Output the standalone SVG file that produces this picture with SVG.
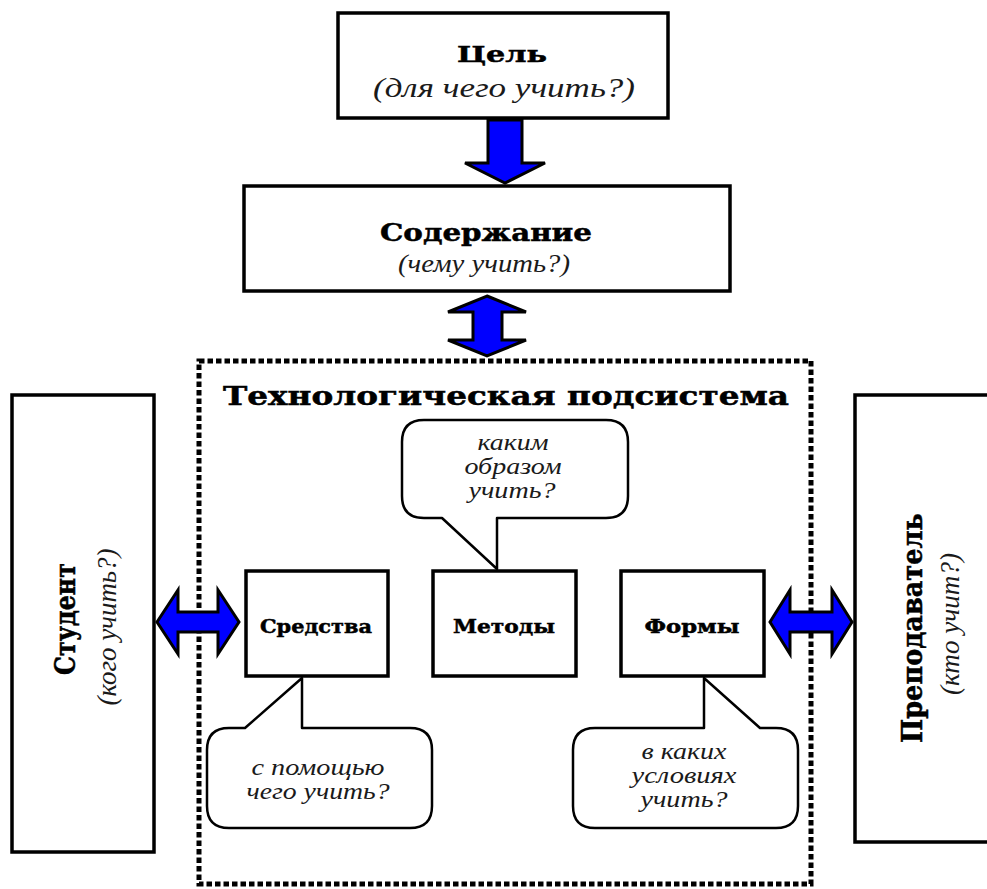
<svg xmlns="http://www.w3.org/2000/svg" width="987" height="889" viewBox="0 0 987 889">
<style>
.box{fill:#fff;stroke:#000;stroke-width:3.5}
.bub{fill:#fff;stroke:#000;stroke-width:2.5;stroke-linejoin:round}
.arr{fill:#0000ff;stroke:#000;stroke-width:3;stroke-linejoin:miter}
.hb{font-family:"DejaVu Serif",serif;font-weight:bold;fill:#000;stroke:#000;stroke-width:0.5;text-anchor:middle}
.it{font-family:"Liberation Serif",serif;font-style:italic;fill:#1a1a1a;text-anchor:middle}
.dot{fill:none;stroke:#000;stroke-width:5;stroke-dasharray:5.5 3}
</style>
<rect width="987" height="889" fill="#fff"/>

<g id="subsystem">
<rect class="dot" x="199" y="361" width="612" height="523"/>
<text class="hb" x="506" y="405" font-size="26" textLength="566" lengthAdjust="spacingAndGlyphs">Технологическая подсистема</text>
</g>

<g id="goal">
<rect class="box" x="338" y="13" width="330" height="105"/>
<text class="hb" x="502" y="62" font-size="22" textLength="90" lengthAdjust="spacingAndGlyphs">Цель</text>
<text class="it" x="504" y="97" font-size="28" textLength="262" lengthAdjust="spacingAndGlyphs">(для чего учить?)</text>
</g>

<g id="content">
<rect class="box" x="244" y="186" width="486" height="105"/>
<text class="hb" x="486" y="241" font-size="25" textLength="212" lengthAdjust="spacingAndGlyphs">Содержание</text>
<text class="it" x="484" y="272" font-size="26" textLength="172" lengthAdjust="spacingAndGlyphs">(чему учить?)</text>
</g>

<g id="student">
<rect class="box" x="12" y="395" width="142" height="457"/>
<text class="hb" transform="translate(75,619) rotate(-90)" font-size="28" textLength="112" lengthAdjust="spacingAndGlyphs">Студент</text>
<text class="it" transform="translate(116,627) rotate(-90)" font-size="27" textLength="157" lengthAdjust="spacingAndGlyphs">(кого учить?)</text>
</g>

<g id="teacher">
<rect class="box" x="855" y="395" width="140" height="447"/>
<text class="hb" transform="translate(922,628) rotate(-90)" font-size="28" textLength="230" lengthAdjust="spacingAndGlyphs">Преподаватель</text>
<text class="it" transform="translate(959,624) rotate(-90)" font-size="27" textLength="142" lengthAdjust="spacingAndGlyphs">(кто учит?)</text>
</g>

<g id="means">
<rect class="box" x="246" y="571" width="142" height="105"/>
<text class="hb" x="316" y="633" font-size="19" textLength="112" lengthAdjust="spacingAndGlyphs">Средства</text>
</g>

<g id="methods">
<rect class="box" x="433" y="571" width="143" height="105"/>
<text class="hb" x="504" y="633" font-size="19" textLength="102" lengthAdjust="spacingAndGlyphs">Методы</text>
</g>

<g id="forms">
<rect class="box" x="621" y="571" width="143" height="105"/>
<text class="hb" x="692" y="633" font-size="19" textLength="95" lengthAdjust="spacingAndGlyphs">Формы</text>
</g>

<g id="callout-methods">
<path class="bub" d="M424,420 H606 Q628,420 628,442 V496 Q628,518 606,518 H497 V569 L442,518 H424 Q402,518 402,496 V442 Q402,420 424,420 Z"/>
<text class="it" x="513" y="450" font-size="24" textLength="71" lengthAdjust="spacingAndGlyphs">каким</text>
<text class="it" x="513" y="474" font-size="24" textLength="97" lengthAdjust="spacingAndGlyphs">образом</text>
<text class="it" x="512" y="498" font-size="24" textLength="87" lengthAdjust="spacingAndGlyphs">учить?</text>
</g>

<g id="callout-means">
<path class="bub" d="M229,728 H245 L302,678 V728 H410 Q432,728 432,750 V806 Q432,828 410,828 H229 Q207,828 207,806 V750 Q207,728 229,728 Z"/>
<text class="it" x="318" y="775" font-size="24" textLength="133" lengthAdjust="spacingAndGlyphs">с помощью</text>
<text class="it" x="318" y="799" font-size="24" textLength="143" lengthAdjust="spacingAndGlyphs">чего учить?</text>
</g>

<g id="callout-forms">
<path class="bub" d="M595,728 H704 V678 L760,728 H776 Q798,728 798,750 V806 Q798,828 776,828 H595 Q573,828 573,806 V750 Q573,728 595,728 Z"/>
<text class="it" x="684" y="759" font-size="24" textLength="85" lengthAdjust="spacingAndGlyphs">в каких</text>
<text class="it" x="684" y="783" font-size="24" textLength="105" lengthAdjust="spacingAndGlyphs">условиях</text>
<text class="it" x="684" y="807" font-size="24" textLength="87" lengthAdjust="spacingAndGlyphs">учить?</text>
</g>

<g id="connectors">
<polygon class="arr" points="488,120 522,120 522,163 545,163 505,183 465,163 488,163"/>
<polygon class="arr" points="487,296 526,312 502,312 502,340 526,340 487,356 448,340 473,340 473,312 448,312"/>
<polygon class="arr" points="157,622 178,590 178,612 218,612 218,590 239,622 218,654 218,632 178,632 178,654"/>
<polygon class="arr" points="770,622 790,590 790,612 832,612 832,590 852,622 832,654 832,632 790,632 790,654"/>
</g>
</svg>
